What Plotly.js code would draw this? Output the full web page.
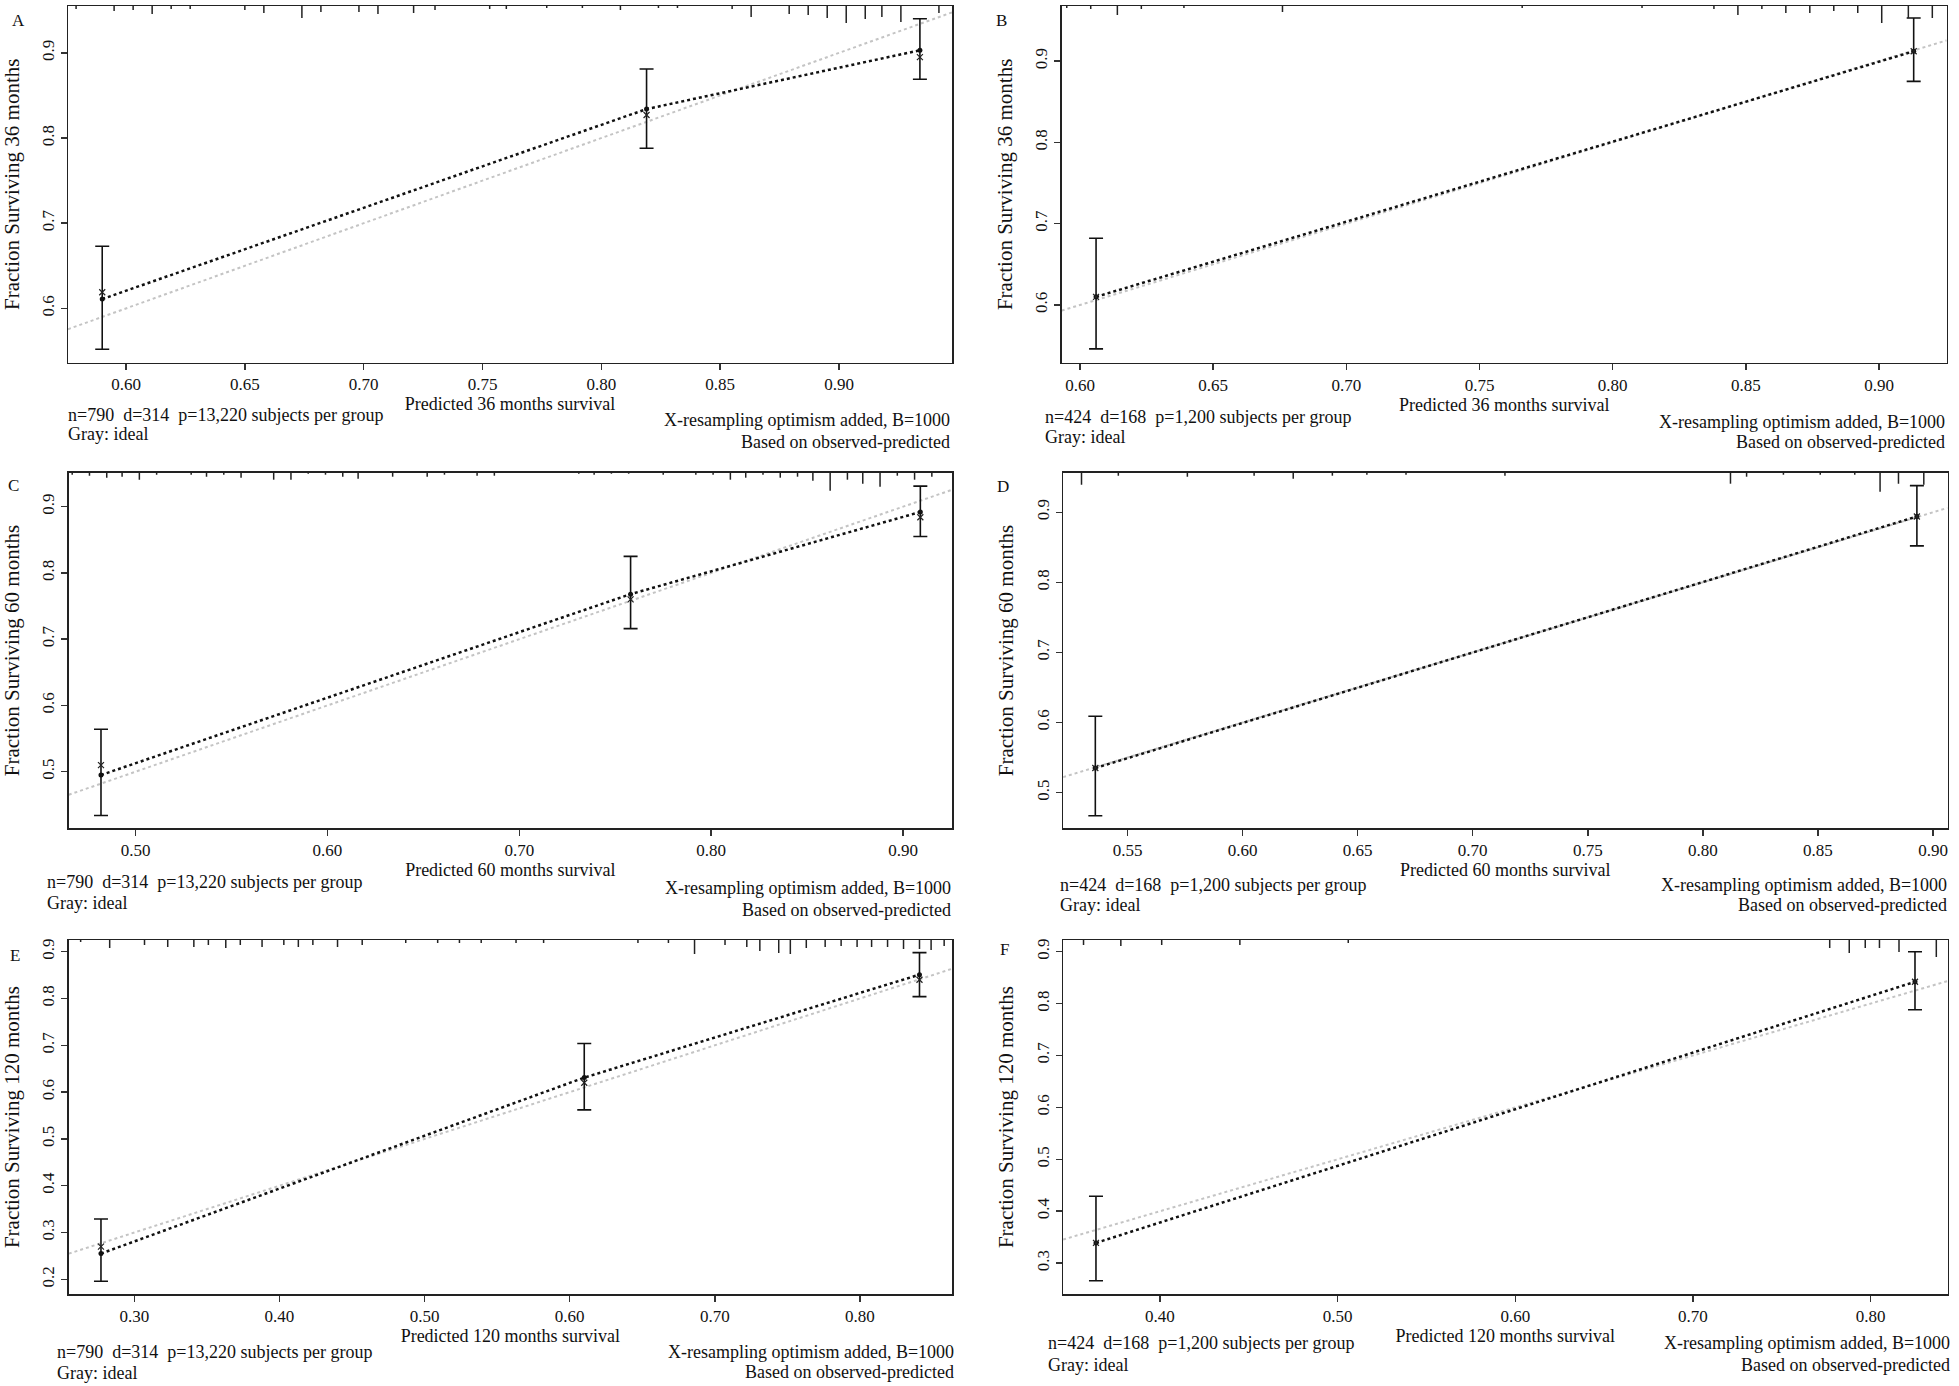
<!DOCTYPE html>
<html>
<head>
<meta charset="utf-8">
<script src="https://cdn.plot.ly/plotly-3.0.1.min.js"></script>
<style>
  html, body { margin: 0; padding: 0; background: #ffffff; }
  #chart { width: 1959px; height: 1386px; }
</style>
</head>
<body>
<div id="chart"></div>
<script>
// ---------------- DATA ----------------
// Panel A : 36 months, training cohort
const predA = [0.590, 0.819, 0.934];
const obsA  = [0.611, 0.834, 0.903];
const loA   = [0.552, 0.788, 0.869];
const hiA   = [0.673, 0.881, 0.940];
const corrA = [0.619, 0.827, 0.895];
const rugXA = [0.579, 0.595, 0.603, 0.611, 0.619, 0.627, 0.650, 0.658, 0.674, 0.682, 0.698, 0.706, 0.721, 0.730, 0.753, 0.760, 0.777, 0.792, 0.808, 0.824, 0.832, 0.855, 0.863, 0.879, 0.887, 0.895, 0.903, 0.911, 0.918, 0.926, 0.942];
const rugHA = [3, 5, 4, 8, 3, 3, 4, 7, 12, 6, 6, 8, 7, 4, 3, 3, 2, 2, 4, 2, 2, 3, 11, 8, 9, 12, 17, 13, 11, 16, 7];

// Panel B : 36 months, validation cohort
const predB = [0.606, 0.913];
const obsB  = [0.610, 0.912];
const loB   = [0.546, 0.875];
const hiB   = [0.682, 0.953];
const corrB = [0.610, 0.912];
const rugXB = [0.595, 0.604, 0.614, 0.623, 0.639, 0.676, 0.766, 0.811, 0.838, 0.847, 0.856, 0.865, 0.874, 0.883, 0.892, 0.901, 0.911, 0.920];
const rugHB = [2, 3, 9, 3, 2, 6, 2, 2, 3, 9, 3, 7, 7, 5, 7, 17, 12, 12];

// Panel C : 60 months, training cohort
const predC = [0.482, 0.758, 0.909];
const obsC  = [0.495, 0.768, 0.892];
const loC   = [0.434, 0.716, 0.855];
const hiC   = [0.564, 0.825, 0.931];
const corrC = [0.510, 0.760, 0.884];
const rugXC = [0.467, 0.476, 0.485, 0.493, 0.502, 0.511, 0.529, 0.537, 0.546, 0.555, 0.572, 0.581, 0.590, 0.599, 0.608, 0.616, 0.634, 0.652, 0.661, 0.678, 0.687, 0.731, 0.739, 0.748, 0.757, 0.775, 0.792, 0.801, 0.810, 0.818, 0.827, 0.836, 0.845, 0.853, 0.862, 0.871, 0.879, 0.888, 0.897, 0.906, 0.915];
const rugHC = [2, 3, 5, 4, 7, 2, 2, 4, 2, 5, 7, 7, 1, 2, 4, 6, 4, 4, 2, 3, 3, 1, 2, 1, 1, 2, 2, 2, 7, 5, 2, 5, 4, 8, 18, 7, 11, 14, 3, 7, 4];

// Panel D : 60 months, validation cohort
const predD = [0.536, 0.893];
const obsD  = [0.535, 0.894];
const loD   = [0.467, 0.852];
const hiD   = [0.609, 0.938];
const corrD = [0.535, 0.894];
const rugXD = [0.530, 0.546, 0.576, 0.605, 0.622, 0.639, 0.654, 0.671, 0.714, 0.812, 0.819, 0.835, 0.851, 0.866, 0.877, 0.885, 0.896];
const rugHD = [12, 3, 4, 3, 6, 3, 2, 2, 3, 11, 4, 2, 2, 2, 19, 11, 12];

// Panel E : 120 months, training cohort
const predE = [0.277, 0.610, 0.841];
const obsE  = [0.255, 0.631, 0.851];
const loE   = [0.196, 0.562, 0.804];
const hiE   = [0.329, 0.704, 0.898];
const corrE = [0.270, 0.620, 0.840];
const rugXE = [0.263, 0.283, 0.307, 0.323, 0.341, 0.351, 0.363, 0.373, 0.388, 0.403, 0.413, 0.423, 0.440, 0.457, 0.487, 0.509, 0.524, 0.539, 0.563, 0.582, 0.647, 0.668, 0.686, 0.707, 0.722, 0.731, 0.744, 0.752, 0.763, 0.776, 0.787, 0.798, 0.808, 0.819, 0.830, 0.841, 0.849, 0.858];
const rugHE = [2, 8, 5, 7, 7, 5, 8, 5, 7, 5, 7, 5, 7, 5, 3, 3, 3, 3, 3, 3, 3, 3, 14, 5, 7, 11, 13, 14, 8, 7, 6, 7, 7, 7, 9, 9, 10, 6];

// Panel F : 120 months, validation cohort
const predF = [0.364, 0.825];
const obsF  = [0.339, 0.842];
const loF   = [0.266, 0.788];
const hiF   = [0.429, 0.900];
const corrF = [0.339, 0.842];
const rugXF = [0.357, 0.378, 0.401, 0.445, 0.506, 0.777, 0.788, 0.797, 0.805, 0.816, 0.837];
const rugHF = [5, 6, 5, 5, 3, 8, 13, 8, 8, 12, 17];

// Text
const panelLetters = ['A', 'B', 'C', 'D', 'E', 'F'];
const monthsLabels = ['36', '36', '60', '60', '120', '120'];
const sampleTexts = [
  'n=790  d=314  p=13,220 subjects per group',
  'n=424  d=168  p=1,200 subjects per group',
  'n=790  d=314  p=13,220 subjects per group',
  'n=424  d=168  p=1,200 subjects per group',
  'n=790  d=314  p=13,220 subjects per group',
  'n=424  d=168  p=1,200 subjects per group'
];
const grayText = 'Gray: ideal';
const resampText = 'X-resampling optimism added, B=1000';
const basedText = 'Based on observed-predicted';

// ---------------- LAYOUT GEOMETRY (pixels of a 1959x1386 canvas) ----------------
const W = 1959, H = 1386;
const FONT = 'Liberation Serif, Times New Roman, serif';

const panelData = [
  {pred: predA, obs: obsA, lo: loA, hi: hiA, corr: corrA, rx: rugXA, rh: rugHA},
  {pred: predB, obs: obsB, lo: loB, hi: hiB, corr: corrB, rx: rugXB, rh: rugHB},
  {pred: predC, obs: obsC, lo: loC, hi: hiC, corr: corrC, rx: rugXC, rh: rugHC},
  {pred: predD, obs: obsD, lo: loD, hi: hiD, corr: corrD, rx: rugXD, rh: rugHD},
  {pred: predE, obs: obsE, lo: loE, hi: hiE, corr: corrE, rx: rugXE, rh: rugHE},
  {pred: predF, obs: obsF, lo: loF, hi: hiF, corr: corrF, rx: rugXF, rh: rugHF}
];

// plot box [left, top, right, bottom] in px, axis ranges, tick settings, text positions
const geo = [
  {box: [68, 6, 952, 362.5],      xr: [0.5756, 0.9475], yr: [0.5365, 0.955],  x0: 0.60, dx: 0.05, y0: 0.6, dy: 0.1,
   letter: [10, 20],  nText: [66, 415],   gText: [66, 434],   rText: [952, 420],   bText: [952, 442]},
  {box: [1061.7, 6, 1946.7, 362.7], xr: [0.5931, 0.9254], yr: [0.529, 0.9677], x0: 0.60, dx: 0.05, y0: 0.6, dy: 0.1,
   letter: [994, 20], nText: [1043, 417], gText: [1043, 437], rText: [1947, 422], bText: [1947, 442]},
  {box: [68.75, 472.7, 952, 828.3], xr: [0.4652, 0.9255], yr: [0.4146, 0.9513], x0: 0.5, dx: 0.1, y0: 0.5, dy: 0.1,
   letter: [6, 485],  nText: [45, 882],   gText: [45, 903],   rText: [953, 888],   bText: [953, 910]},
  {box: [1063.1, 472.7, 1947.5, 828.3], xr: [0.522, 0.9063], yr: [0.449, 0.9565], x0: 0.55, dx: 0.05, y0: 0.5, dy: 0.1,
   letter: [995, 487], nText: [1058, 885], gText: [1058, 905], rText: [1949, 885], bText: [1949, 905]},
  {box: [68.75, 940, 952, 1294.3], xr: [0.2548, 0.8634], yr: [0.168, 0.925], x0: 0.3, dx: 0.1, y0: 0.2, dy: 0.1,
   letter: [8, 955],  nText: [55, 1352],  gText: [55, 1373],  rText: [956, 1352],  bText: [956, 1372]},
  {box: [1063.1, 940, 1947.5, 1294.3], xr: [0.3455, 0.8433], yr: [0.240, 0.9225], x0: 0.4, dx: 0.1, y0: 0.3, dy: 0.1,
   letter: [998, 950], nText: [1046, 1343], gText: [1046, 1365], rText: [1952, 1343], bText: [1952, 1365]}
];

const RUG_PX_PER_UNIT = 1.0; // spike length in px per unit of relative frequency

const traces = [];
const layout = {
  width: W, height: H,
  margin: {l: 0, r: 0, t: 0, b: 0},
  paper_bgcolor: '#ffffff',
  plot_bgcolor: '#ffffff',
  showlegend: false,
  font: {family: FONT, size: 17, color: '#111'},
  annotations: [],
  shapes: []
};

geo.forEach((g, i) => {
  const d = panelData[i];
  const n = i === 0 ? '' : String(i + 1);
  const xa = 'x' + n, ya = 'y' + n;
  const [L, T, R, B] = g.box;
  const plotH = B - T;

  layout['xaxis' + n] = {
    domain: [L / W, R / W],
    anchor: ya,
    range: g.xr,
    tick0: g.x0, dtick: g.dx,
    tickformat: '.2f',
    ticks: 'outside', ticklen: 6, tickwidth: 1.5, tickcolor: '#333',
    showline: true, mirror: true, linecolor: '#222', linewidth: 1.5,
    showgrid: false, zeroline: false,
    tickfont: {family: FONT, size: 17, color: '#111'},
    title: {text: 'Predicted ' + monthsLabels[i] + ' months survival',
            font: {family: FONT, size: 18, color: '#111'}, standoff: 2},
    automargin: false
  };
  layout['yaxis' + n] = {
    domain: [1 - B / H, 1 - T / H],
    anchor: xa,
    range: g.yr,
    tick0: g.y0, dtick: g.dy,
    tickformat: '.1f',
    tickangle: -90,
    ticks: 'outside', ticklen: 6, tickwidth: 1.5, tickcolor: '#333',
    showline: true, mirror: true, linecolor: '#222', linewidth: 1.5,
    showgrid: false, zeroline: false,
    tickfont: {family: FONT, size: 17, color: '#111'},
    title: {text: 'Fraction Surviving ' + monthsLabels[i] + ' months',
            font: {family: FONT, size: 21, color: '#111'}, standoff: 14},
    automargin: false
  };

  // ideal (gray) line spanning the whole x range
  traces.push({
    type: 'scatter', mode: 'lines', xaxis: xa, yaxis: ya,
    x: g.xr, y: g.xr,
    line: {color: '#c4c4c4', width: 2, dash: 'dot'},
    hoverinfo: 'skip'
  });
  // observed calibration line with error bars
  traces.push({
    type: 'scatter', mode: 'lines+markers', xaxis: xa, yaxis: ya,
    x: d.pred, y: d.obs,
    line: {color: '#111', width: 2.5, dash: 'dot'},
    marker: {color: '#111', size: 5, symbol: 'circle'},
    error_y: {
      type: 'data', symmetric: false,
      array: d.obs.map((v, k) => d.hi[k] - v),
      arrayminus: d.obs.map((v, k) => v - d.lo[k]),
      color: '#111', thickness: 1.6, width: 7
    }
  });
  // bias-corrected estimates (x)
  traces.push({
    type: 'scatter', mode: 'markers', xaxis: xa, yaxis: ya,
    x: d.pred, y: d.corr,
    marker: {color: '#222', size: 6, symbol: 'x-thin', line: {color: '#222', width: 1.2}}
  });

  // rug / spike histogram of predictions along the top border
  d.rx.forEach((rx, k) => {
    layout.shapes.push({
      type: 'line', xref: xa, yref: ya + ' domain',
      x0: rx, x1: rx, y0: 1, y1: 1 - (d.rh[k] * RUG_PX_PER_UNIT) / plotH,
      line: {color: '#222', width: 1.5}
    });
  });

  const ann = (txt, px, py, xanchor, size) => ({
    text: txt, xref: 'paper', yref: 'paper',
    x: px / W, y: 1 - py / H, xanchor: xanchor, yanchor: 'middle',
    showarrow: false, font: {family: FONT, size: size, color: '#111'}
  });
  layout.annotations.push(ann(panelLetters[i], g.letter[0], g.letter[1], 'left', 17));
  layout.annotations.push(ann(sampleTexts[i], g.nText[0], g.nText[1], 'left', 18));
  layout.annotations.push(ann(grayText, g.gText[0], g.gText[1], 'left', 18));
  layout.annotations.push(ann(resampText, g.rText[0], g.rText[1], 'right', 18));
  layout.annotations.push(ann(basedText, g.bText[0], g.bText[1], 'right', 18));
});

Plotly.newPlot('chart', traces, layout, {displayModeBar: false, staticPlot: true});
</script>
</body>
</html>
